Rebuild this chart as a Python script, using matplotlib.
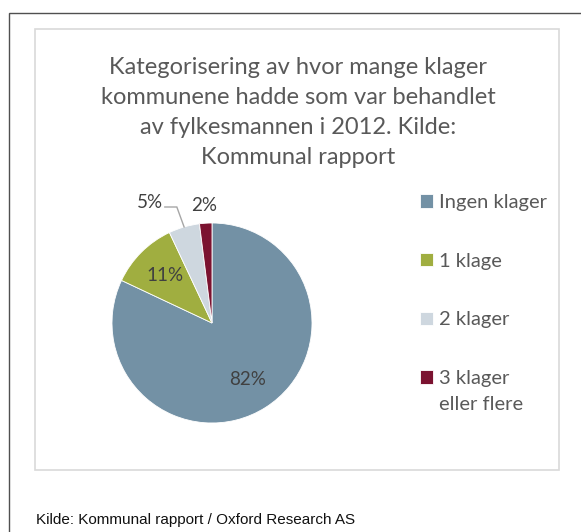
import matplotlib
matplotlib.use("Agg")
import matplotlib.pyplot as plt
from matplotlib.patches import Rectangle
import numpy as np

categories = ["Ingen klager", "1 klage", "2 klager", "3 klager"]
last_label_extra = "eller flere"
values = [82, 11, 5, 2]
colors = ["#7391A5", "#A0AE40", "#CED7DF", "#7B1230"]
title = "Kategorisering av hvor mange klager\nkommunene hadde som var behandlet\nav fylkesmannen i 2012. Kilde:\nKommunal rapport"
source = "Kilde: Kommunal rapport / Oxford Research AS"

W, H = 581, 532
fig = plt.figure(figsize=(W / 100, H / 100), dpi=100)
fig.patch.set_facecolor("white")

def fx(x): return x / W
def fy(y): return 1 - y / H

# outer frame
fig.patches.append(Rectangle((fx(8.5), fy(540)), fx(600) - fx(8.5), fy(13) - fy(540),
                             transform=fig.transFigure, fill=False,
                             edgecolor="#505050", lw=1.0))
# inner chart frame
fig.patches.append(Rectangle((fx(35), fy(470)), fx(559) - fx(35), fy(28.5) - fy(470),
                             transform=fig.transFigure, fill=False,
                             edgecolor="#D9D9D9", lw=1.2))

fig.text(fx(298), fy(57), title, ha="center", va="top", fontsize=17,
         family="Lato", color="#595959", linespacing=1.53)

cx, cy, r = 212, 323, 100
pad = 1.1
ax = fig.add_axes([fx(cx - r * pad), fy(cy + r * pad), 2 * r * pad / W, 2 * r * pad / H])
wedges, _ = ax.pie(values, colors=colors, startangle=90, counterclock=False,
                   radius=1, wedgeprops=dict(edgecolor="white", linewidth=0.6))
ax.set_xlim(-pad, pad)
ax.set_ylim(-pad, pad)
ax.axis("off")

txt_kw = dict(fontsize=13.5, family="Lato", color="#404040", ha="center", va="center")
for i, (w, v) in enumerate(zip(wedges, values)):
    mid = np.deg2rad((w.theta1 + w.theta2) / 2)
    c, s = np.cos(mid), np.sin(mid)
    if i < 2:
        ax.text(0.67 * c, 0.67 * s, f"{v}%", **txt_kw)
    elif i == 2:
        ax.text(-0.62, 1.2, f"{v}%", **txt_kw)
        ly = 1.16
        kx = c - (ly - s) * np.tan(np.deg2rad(20))
        ax.plot([kx - 0.12, kx, c], [ly, ly, s], color="#A6A6A6", lw=1.0,
                solid_joinstyle="miter", clip_on=False)
    else:
        ax.text(1.18 * c, 1.18 * s, f"{v}%", **txt_kw)

leg = fig.legend(wedges, categories, loc="upper left",
                 bbox_to_anchor=(fx(412), fy(186)), frameon=False,
                 prop=dict(family="Lato", size=14.5), labelcolor="#595959",
                 handlelength=0.65, handleheight=0.65, handletextpad=0.3,
                 labelspacing=2.07, borderaxespad=0)

fig.canvas.draw()
t = leg.get_texts()[-1]
bb = t.get_window_extent(fig.canvas.get_renderer())
fig.text(bb.x0 / W, (bb.y0 - 26 + bb.height / 2) / H, last_label_extra,
         ha="left", va="center", family="Lato", fontsize=14.5, color="#595959")

fig.text(fx(36), fy(520), source, ha="left", va="center", fontsize=11.0,
         family="Liberation Sans", color="#111111")

fig.savefig("out.png", dpi=100)
